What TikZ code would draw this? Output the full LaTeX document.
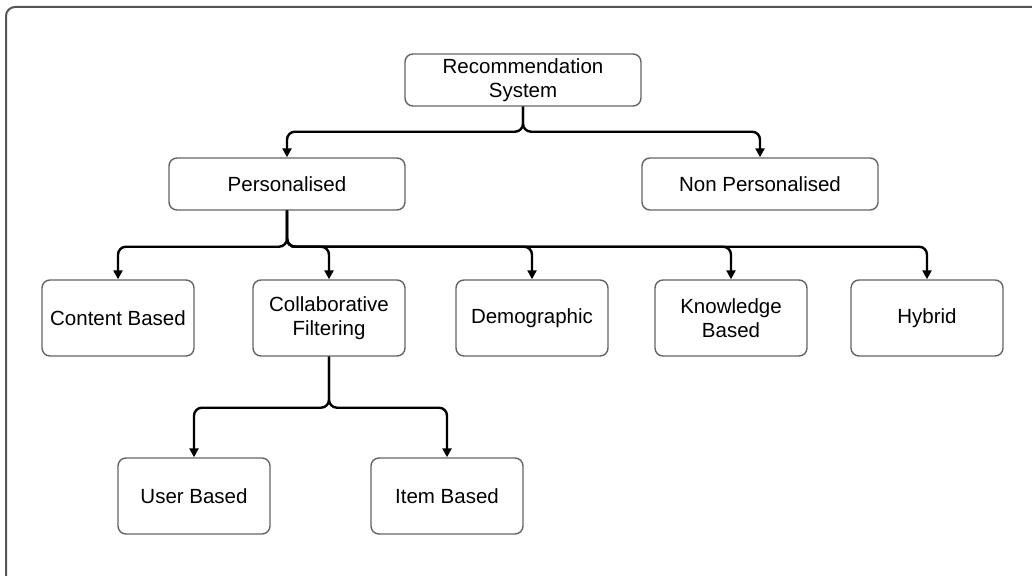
\documentclass[tikz,border=0pt]{standalone}
\usepackage{fontspec}
\setmainfont{Liberation Sans}
\usetikzlibrary{arrows.meta}
\definecolor{boxline}{RGB}{100,100,100}
\definecolor{frameline}{RGB}{85,85,85}
\tikzset{
  box/.style={draw=boxline, line width=1.4pt, rounded corners=8pt, align=center,
    inner sep=0pt, font=\fontsize{20.5}{23.5}\selectfont},
  wide/.style={box, minimum width=236pt, minimum height=52pt},
  leaf/.style={box, minimum width=152pt, minimum height=76pt},
  conn/.style={draw=black, line width=2.4pt, rounded corners=8pt,
    -{Triangle[length=9pt,width=9pt]}},
}
\begin{document}
\begin{tikzpicture}[x=1pt,y=-1pt]
\useasboundingbox (0,0) rectangle (1032,575);
% outer frame, running past the right and bottom edges
\begin{scope}
\clip (0,0) rectangle (1032,575);
\draw[frameline, line width=2pt, rounded corners=9pt] (6,7) rectangle (1060,600);
\end{scope}

% level 1 and 2
\node[wide] (root) at (523,80) {Recommendation\\System};
\node[wide] (pers) at (287,184) {Personalised};
\node[wide] (nonp) at (760,184) {Non Personalised};

% level 3
\node[leaf] (cont) at (118,318) {Content Based};
\node[leaf] (coll) at (329,318) {Collaborative\\Filtering};
\node[leaf] (demo) at (532,318) {Demographic};
\node[leaf] (know) at (731,318) {Knowledge\\Based};
\node[leaf] (hybr) at (927,318) {Hybrid};

% level 4
\node[leaf] (user) at (194,496) {User Based};
\node[leaf] (item) at (447,496) {Item Based};

% connectors
\foreach \c in {pers,nonp}
  \draw[conn] (root.south) -- ++(0,25) -| (\c.north);
\foreach \c in {cont,coll,demo,know,hybr}
  \draw[conn] (pers.south) -- ++(0,36) -| (\c.north);
\foreach \c in {user,item}
  \draw[conn] (coll.south) -- ++(0,51) -| (\c.north);
\end{tikzpicture}
\end{document}
